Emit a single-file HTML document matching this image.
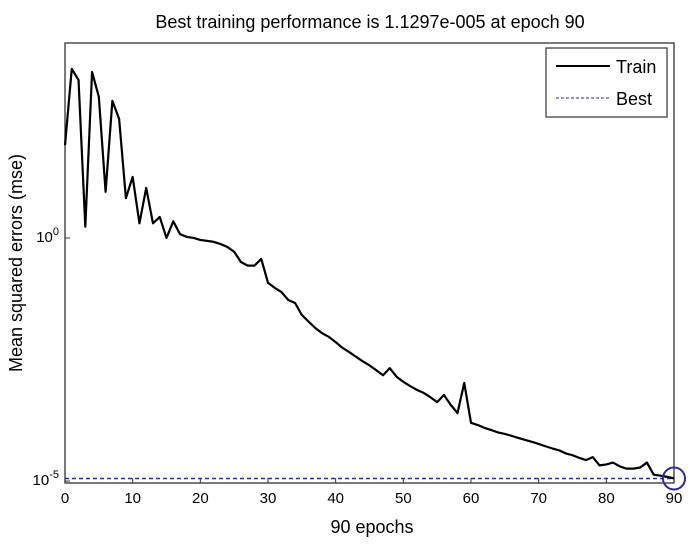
<!DOCTYPE html>
<html><head><meta charset="utf-8"><style>
body{margin:0;background:#fff;}
svg{display:block;font-family:"Liberation Sans",Arial,sans-serif;}
</style></head><body>
<svg width="699" height="549" id="chart">
<text x="370" y="28" font-size="18" text-anchor="middle">Best training performance is 1.1297e-005 at epoch 90</text>
<text x="372" y="533" font-size="18" text-anchor="middle">90 epochs</text>
<text transform="translate(22,263) rotate(-90)" font-size="18" text-anchor="middle">Mean squared errors (mse)</text>
<g id="plot"></g>
</svg>
<script>
const epochs=[];for(let i=0;i<=90;i++)epochs.push(i);
const trainMse=[81,3000,1780,1.7,2600,800,8.9,660,280,6.6,18,2.0,10.7,2.0,2.7,1.0,2.2,1.2,1.05,1.0,0.91,0.87,0.83,0.75,0.65,0.52,0.32,0.27,0.27,0.37,0.12,0.094,0.077,0.053,0.046,0.026,0.019,0.014,0.011,0.0092,0.0072,0.0055,0.0045,0.0036,0.0029,0.0024,0.0019,0.0015,0.0021,0.0014,0.0011,0.0009,0.00075,0.00065,0.00053,0.00042,0.00059,0.00037,0.00025,0.00104,0.000158,0.000142,0.000124,0.000112,0.0001,0.000093,0.000085,0.000077,0.00007,0.000064,0.000058,0.000052,0.000047,0.000043,0.000037,0.000034,0.00003,0.000027,0.000031,0.000021,0.000022,0.000024,0.00002,0.000018,0.000018,0.000019,0.000024,0.0000135,0.0000129,0.0000122,0.0000113];
const bestValue=1.1297e-5;
const bestEpoch=90;
const xTicks=[0,10,20,30,40,50,60,70,80,90];
const yTickExps=[0,-5];
const NS='http://www.w3.org/2000/svg';
const L=65,R=674,T=43,B=483,XMIN=0,XMAX=90,YMAXL=4.01,YMINL=-5.04;
function xs(v){return L+(v-XMIN)/(XMAX-XMIN)*(R-L);}
function ys(v){const l=Math.log10(v);return T+(YMAXL-l)/(YMAXL-YMINL)*(B-T);}
const g=document.getElementById('plot');
function mk(t,a){const e=document.createElementNS(NS,t);for(const k in a)e.setAttribute(k,a[k]);g.appendChild(e);return e;}
let e=mk('rect',{x:L,y:T,width:R-L,height:B-T,fill:'#fff',stroke:'#333','stroke-width':1.3});


xTicks.forEach(t=>{const x=xs(t);
let l=mk('line',{x1:x,x2:x,y1:B,y2:B-5,stroke:'#333'});


let tx=mk('text',{x:x,y:B+20,'font-size':15,'text-anchor':'middle'});tx.textContent=t;

});
yTickExps.forEach(p=>{const y=ys(Math.pow(10,p));
let l=mk('line',{x1:L,x2:L+5,y1:y,y2:y,stroke:'#333'});


let tx=mk('text',{x:L-6,y:y+4,'font-size':15,'text-anchor':'end'});
tx.innerHTML='10<tspan dy="-7" font-size="11">'+p+'</tspan>';

});
let bl=mk('line',{x1:L,x2:R,y1:ys(bestValue),y2:ys(bestValue),stroke:'#2a2aa8','stroke-width':1.5,'stroke-dasharray':'4,3'});


let pl=mk('polyline',{points:trainMse.map((v,i)=>xs(epochs[i])+','+ys(v)).join(' '),fill:'none',stroke:'#000','stroke-width':2.2,'stroke-linejoin':'round'});


let c=mk('circle',{cx:xs(bestEpoch),cy:ys(bestValue),r:11,fill:'none',stroke:'#2a2aa8','stroke-width':2});


let lg=mk('rect',{x:546,y:48,width:121,height:69,fill:'#fff',stroke:'#333','stroke-width':1.2});


let l1=mk('line',{x1:556,x2:610,y1:66,y2:66,stroke:'#000','stroke-width':2});


let t1=mk('text',{x:616,y:73,'font-size':18});t1.textContent='Train';


let l2=mk('line',{x1:556,x2:610,y1:98,y2:98,stroke:'#2a2aa8','stroke-width':1,'stroke-dasharray':'3,2'});


let t2=mk('text',{x:616,y:105,'font-size':18});t2.textContent='Best';


</script>
</body></html>
